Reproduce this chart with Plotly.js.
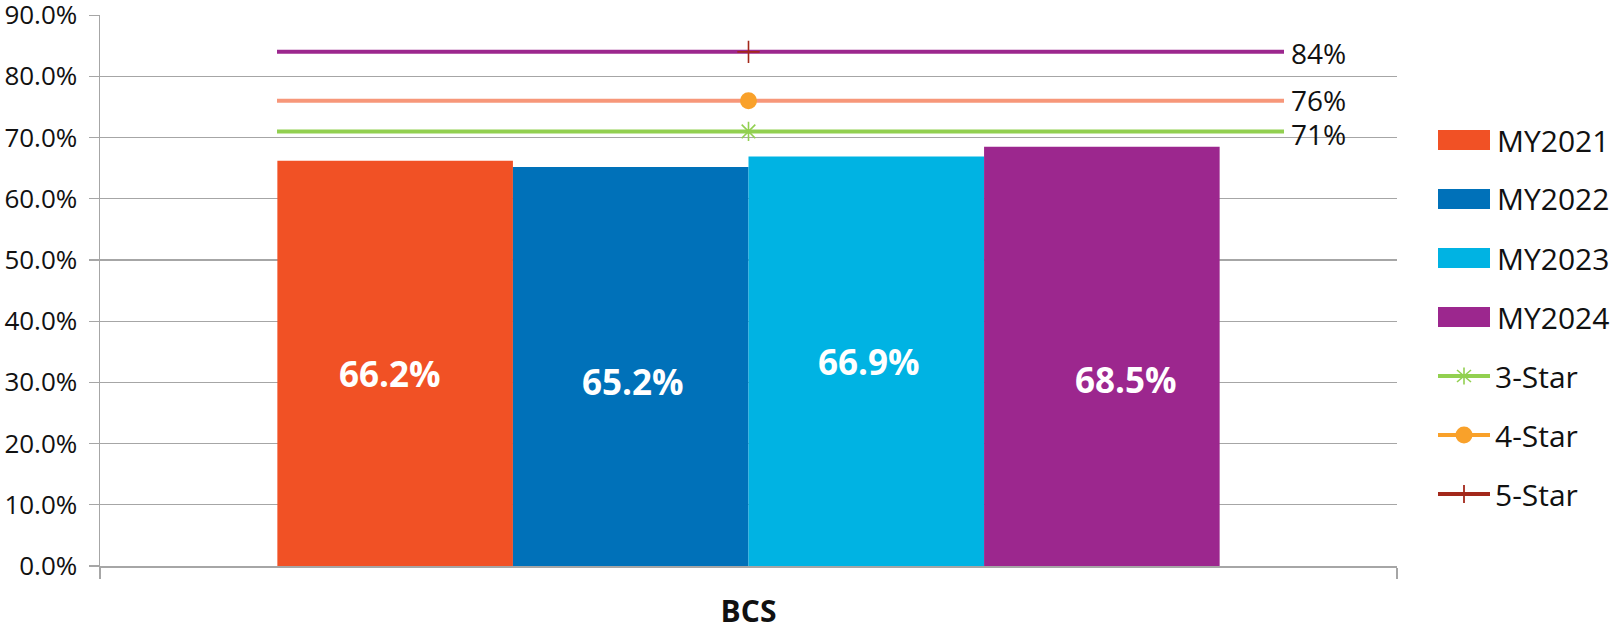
<!DOCTYPE html>
<html>
<head>
<meta charset="utf-8">
<script src="https://cdn.plot.ly/plotly-3.0.1.min.js"></script>
<style>
  html, body { margin: 0; padding: 0; background: #fff; }
  #chart { width: 1613px; height: 630px; }
</style>
</head>
<body>
<div id="chart"></div>
<script>
// ---- data ----
const categories = ['BCS'];
const seriesNames = ['MY2021', 'MY2022', 'MY2023', 'MY2024'];
const seriesValues = [66.2, 65.2, 66.9, 68.5];
const starNames = ['3-Star', '4-Star', '5-Star'];
const starValues = [71, 76, 84];

// ---- styles ----
const FONT = '"Open Sans", "Noto Sans", sans-serif';
const TEXT = '#111111';
const GRID = '#A6A6A6';
const barColors = ['#F15125', '#0071B9', '#00B3E3', '#9C278E'];
const starMarkerColors = ['#92D050', '#F9A12A', '#A3281B'];
const starGuideColors = ['#92D050', '#F7977A', '#9C278E'];
const starSymbols = ['asterisk-open', 'circle', 'cross-thin-open'];
const starSizes = [16, 17, 16];

// ---- geometry (pixels) ----
const W = 1613, H = 630;
const M = { l: 100, r: 216, t: 15, b: 64 };
const plotW = W - M.l - M.r;
const plotH = H - M.t - M.b;
const bargap = 0.2735;
const px2paperX = px => (px - M.l) / plotW;
const px2paperY = py => (H - M.b - py) / plotH;

// per-label nudges for the value labels inside the bars [dx, dy] in px (dy up)
const labelNudge = [[-5, -10], [2, -15], [3, 0], [24, -23]];

const traces = [];

// bars
seriesNames.forEach((name, i) => {
  traces.push({
    type: 'bar',
    name: name,
    x: categories,
    y: [seriesValues[i]],
    marker: { color: barColors[i], line: { width: 0 } },
    showlegend: false,
    hoverinfo: 'skip'
  });
});

// star thresholds as markers at the category centre
starNames.forEach((name, i) => {
  traces.push({
    type: 'scatter',
    mode: 'markers',
    name: name,
    x: categories,
    y: [starValues[i]],
    marker: {
      symbol: starSymbols[i],
      size: starSizes[i],
      color: starMarkerColors[i],
      line: { color: starMarkerColors[i], width: i === 1 ? 0 : 1.6 }
    },
    showlegend: false,
    cliponaxis: false,
    hoverinfo: 'skip'
  });
});

const shapes = [];
const annotations = [];

// line segment given in figure pixels
function pxLine(x0, y0, x1, y1, color, width) {
  shapes.push({
    type: 'line', xref: 'paper', yref: 'paper',
    x0: px2paperX(x0), x1: px2paperX(x1),
    y0: px2paperY(y0), y1: px2paperY(y1),
    line: { color: color, width: width }
  });
}

// threshold guide lines with their labels
starValues.forEach((v, i) => {
  shapes.push({
    type: 'line', layer: 'below',
    xref: 'paper', yref: 'y',
    x0: px2paperX(277), x1: px2paperX(1284),
    y0: v, y1: v,
    line: { color: starGuideColors[i], width: 4 }
  });
  annotations.push({
    xref: 'paper', yref: 'y',
    x: px2paperX(1289), y: v,
    xanchor: 'left', yanchor: 'middle',
    yshift: [-3, 1, -1][i],
    text: v + '%',
    showarrow: false,
    font: { family: FONT, size: 28, color: TEXT }
  });
});

// value labels inside the bars
const slot = plotW * (1 - bargap) / seriesValues.length;
seriesValues.forEach((v, i) => {
  annotations.push({
    xref: 'x', yref: 'y',
    x: categories[0], y: v / 2,
    xshift: (i - (seriesValues.length - 1) / 2) * slot + labelNudge[i][0],
    yshift: labelNudge[i][1],
    text: v.toFixed(1) + '%',
    showarrow: false,
    font: { family: FONT, size: 35, color: '#FFFFFF', weight: 'bold' }
  });
});

// legend
const legendY = [140, 199, 258, 317, 376, 435, 494];
const legSwX0 = 1438, legSwX1 = 1490, legTextX = 1495;
const legMidX = (legSwX0 + legSwX1) / 2;

seriesNames.forEach((name, i) => {
  shapes.push({
    type: 'rect', xref: 'paper', yref: 'paper',
    x0: px2paperX(legSwX0), x1: px2paperX(legSwX1),
    y0: px2paperY(legendY[i] + 10), y1: px2paperY(legendY[i] - 10),
    fillcolor: barColors[i], line: { width: 0 }
  });
  annotations.push({
    xref: 'paper', yref: 'paper',
    x: px2paperX(legTextX), y: px2paperY(legendY[i]),
    xanchor: 'left', yanchor: 'middle',
    text: name, showarrow: false,
    font: { family: FONT, size: 30, color: TEXT }
  });
});

starNames.forEach((name, i) => {
  const yy = legendY[4 + i];
  const c = starMarkerColors[i];
  pxLine(legSwX0, yy, legSwX1, yy, c, 4);
  if (starSymbols[i] === 'asterisk-open') {
    pxLine(legMidX, yy - 8.5, legMidX, yy + 8.5, c, 1.6);
    pxLine(legMidX - 7, yy - 6, legMidX + 7, yy + 6, c, 1.6);
    pxLine(legMidX - 7, yy + 6, legMidX + 7, yy - 6, c, 1.6);
  } else if (starSymbols[i] === 'circle') {
    shapes.push({
      type: 'circle', xref: 'paper', yref: 'paper',
      x0: px2paperX(legMidX - 8.5), x1: px2paperX(legMidX + 8.5),
      y0: px2paperY(yy + 8.5), y1: px2paperY(yy - 8.5),
      fillcolor: c, line: { width: 0 }
    });
  } else {
    pxLine(legMidX, yy - 9, legMidX, yy + 9, c, 1.8);
    pxLine(legMidX - 8, yy, legMidX + 8, yy, c, 1.8);
  }
  annotations.push({
    xref: 'paper', yref: 'paper',
    x: px2paperX(legTextX - 2), y: px2paperY(yy),
    xanchor: 'left', yanchor: 'middle',
    text: name, showarrow: false,
    font: { family: FONT, size: 30, color: TEXT }
  });
});

const layout = {
  width: W, height: H,
  margin: M,
  paper_bgcolor: '#FFFFFF',
  plot_bgcolor: '#FFFFFF',
  font: { family: FONT, color: TEXT },
  barmode: 'group',
  bargap: bargap,
  bargroupgap: 0,
  showlegend: false,
  xaxis: {
    type: 'category',
    range: [-0.5, 0.5],
    showline: true, linecolor: GRID, linewidth: 1.5,
    ticks: 'outside', tickson: 'boundaries', ticklen: 11, tickcolor: GRID, tickwidth: 1.5,
    tickfont: { family: FONT, size: 30, color: TEXT, weight: 'bold' },
    ticklabelstandoff: 18,
    showgrid: false, zeroline: false, fixedrange: true
  },
  yaxis: {
    range: [0, 90.02],
    dtick: 10, tick0: 0,
    tickformat: '.1f', ticksuffix: '%',
    ticklabeloverflow: 'allow',
    showgrid: true, gridcolor: GRID, gridwidth: 1.2,
    showline: true, linecolor: GRID, linewidth: 1.5,
    ticks: 'outside', ticklen: 10, tickcolor: GRID, tickwidth: 1.2,
    tickfont: { family: FONT, size: 26, color: TEXT },
    ticklabelstandoff: 6,
    zeroline: false, fixedrange: true
  },
  shapes: shapes,
  annotations: annotations
};

Plotly.newPlot('chart', traces, layout, { staticPlot: true, displayModeBar: false });
</script>
</body>
</html>
